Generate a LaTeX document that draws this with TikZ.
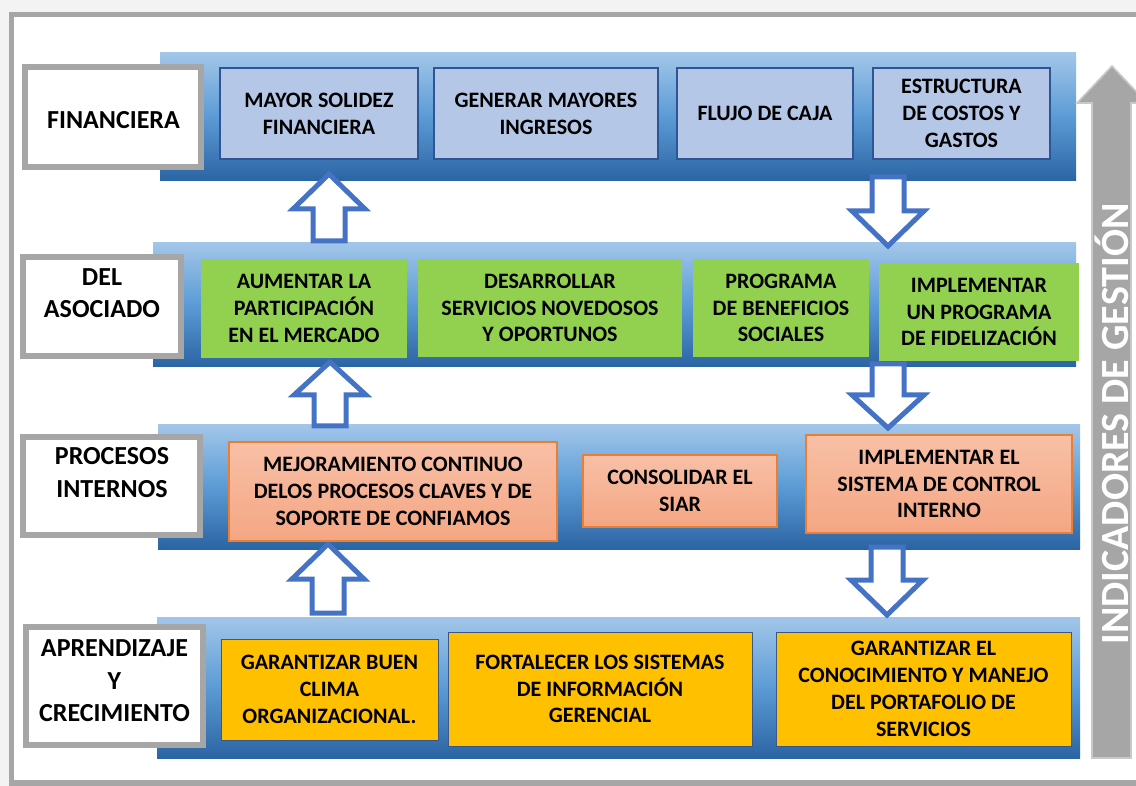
\documentclass[tikz,border=0pt]{standalone}
\usepackage{fontspec}
\setmainfont{Carlito}
\usepackage{tikz}
\usetikzlibrary{calc}

\definecolor{framegray}{HTML}{A6A6A6}
\definecolor{bggray}{HTML}{F3F3F3}
\definecolor{barlight}{HTML}{A2C6E9}
\definecolor{barmid}{HTML}{5B9BD5}
\definecolor{bardark}{HTML}{2B64A3}
\definecolor{finfill}{HTML}{B4C7E7}
\definecolor{finline}{HTML}{2F5597}
\definecolor{asofill}{HTML}{92D050}
\definecolor{protop}{HTML}{F8C0A6}
\definecolor{probot}{HTML}{F4A683}
\definecolor{proline}{HTML}{ED7D31}
\definecolor{aprfill}{HTML}{FFC000}
\definecolor{aprline}{HTML}{3B5689}
\definecolor{arrblue}{HTML}{4472C4}
\definecolor{indgray}{HTML}{A6A6A6}
\definecolor{indline}{HTML}{C9C9C9}

% hollow block arrow: base, tip, signed head length
\newcommand{\blockarrow}[3]{%
  \draw[blockarr] ($(#1)+(-16,0)$) -- ($(#2)+(-16,#3)$) -- ($(#2)+(-36,#3)$) -- (#2)
     -- ($(#2)+(36,#3)$) -- ($(#2)+(16,#3)$) -- ($(#1)+(16,0)$) -- cycle;}

\begin{document}
\begin{tikzpicture}[x=0.5pt,y=-0.5pt,
  sz/.style 2 args={minimum width=#1*0.5pt,minimum height=#2*0.5pt},
  bar/.style={inner sep=0pt,top color=barlight,bottom color=bardark,middle color=barmid},
  lblbox/.style={draw=framegray,line width=3pt,fill=white,inner sep=0pt},
  lbltext/.style={font=\fontsize{13}{16.25}\selectfont\bfseries,align=center,inner sep=0pt},
  goal/.style={font=\fontsize{11}{13.4}\selectfont\bfseries,align=center,inner sep=2pt},
  finbox/.style={goal,fill=finfill,draw=finline,line width=0.6pt},
  asobox/.style={goal,fill=asofill},
  probox/.style={goal,top color=protop,bottom color=probot,draw=proline,line width=0.6pt},
  aprbox/.style={goal,fill=aprfill,draw=aprline,line width=0.5pt},
  blockarr/.style={draw=arrblue,line width=2.5pt,fill=white,line join=miter},
  indic/.style={fill=indgray,draw=indline,line width=0.8pt}]

 \useasboundingbox (0,0) rectangle (1136,786);
 \clip (0,0) rectangle (1136,786);
 \fill[bggray] (0,0) rectangle (1136,786);
 \draw[framegray,line width=2.6pt,fill=white] (11.5,14.5) rectangle (1150,783);

 % perspective bars
 \node[bar,sz={916}{128}] (bar1) at (618,117)   {};
 \node[bar,sz={923}{124}] (bar2) at (614.5,305) {};
 \node[bar,sz={922}{124}] (bar3) at (619,487)   {};
 \node[bar,sz={923}{141}] (bar4) at (618.5,687.5) {};

 % arrows between the bars
 \coordinate (u1a) at (329,241); \coordinate (u1b) at (329,174);
 \coordinate (d1a) at (888,177); \coordinate (d1b) at (888,246);
 \coordinate (u2a) at (330,426); \coordinate (u2b) at (330,362);
 \coordinate (d2a) at (888,364); \coordinate (d2b) at (888,428);
 \coordinate (u3a) at (328,613); \coordinate (u3b) at (328,544);
 \coordinate (d3a) at (887,547); \coordinate (d3b) at (887,615);
 \foreach \a/\b/\h in {u1a/u1b/35,d1a/d1b/-35,u2a/u2b/33,d2a/d2b/-33,u3a/u3b/35,d3a/d3b/-35}
   \blockarrow{\a}{\b}{\h};

 % perspective labels
 \node[lblbox,sz={176}{100}] (fin) at (113,117)   {};
 \node[lblbox,sz={158}{99}]  (aso) at (102,306.5) {};
 \node[lblbox,sz={177}{98}]  (pro) at (111.5,486) {};
 \node[lblbox,sz={177}{118}] (apr) at (114.5,686) {};
 \node[lbltext] (finT) at (113.5,120) {FINANCIERA};
 \node[lbltext] (asoT) at (102,293)   {DEL\\ASOCIADO};
 \node[lbltext] (proT) at (112,472.5) {PROCESOS\\INTERNOS};
 \node[lbltext] (aprT) at (114.5,681) {APRENDIZAJE\\Y\\CRECIMIENTO};

 % objectives
 \node[finbox,sz={198}{91}] (m1) at (319,113.5)   {MAYOR SOLIDEZ\\FINANCIERA};
 \node[finbox,sz={224}{91}] (m2) at (546,113.5)   {GENERAR MAYORES\\INGRESOS};
 \node[finbox,sz={176}{91}] (m3) at (765,113.5)   {FLUJO DE CAJA};
 \node[finbox,sz={177}{91}] (m4) at (961.5,113.5) {ESTRUCTURA\\DE COSTOS Y\\GASTOS};

 \node[asobox,sz={206}{99}] (a1) at (304,308.5) {AUMENTAR LA\\PARTICIPACIÓN\\EN EL MERCADO};
 \node[asobox,sz={264}{98}] (a2) at (550,308)   {DESARROLLAR\\SERVICIOS NOVEDOSOS\\Y OPORTUNOS};
 \node[asobox,sz={176}{98}] (a3) at (781,308)   {PROGRAMA\\DE BENEFICIOS\\SOCIALES};
 \node[asobox,sz={200}{98}] (a4) at (979,312)   {IMPLEMENTAR\\UN PROGRAMA\\DE FIDELIZACIÓN};

 \node[probox,sz={328}{99}] (p1) at (393,491.5) {MEJORAMIENTO CONTINUO\\DELOS PROCESOS CLAVES Y DE\\SOPORTE DE CONFIAMOS};
 \node[probox,sz={194}{72}] (p2) at (680,491)   {CONSOLIDAR EL\\SIAR};
 \node[probox,sz={266}{98}] (p3) at (939,484)   {IMPLEMENTAR EL\\SISTEMA DE CONTROL\\INTERNO};

 \node[aprbox,sz={217}{101}] (g1) at (329.5,689.5) {GARANTIZAR BUEN\\CLIMA\\ORGANIZACIONAL.};
 \node[aprbox,sz={304}{114}] (g2) at (600,689)     {FORTALECER LOS SISTEMAS\\DE INFORMACIÓN\\GERENCIAL};
 \node[aprbox,sz={295}{114}] (g3) at (923.5,689)   {GARANTIZAR EL\\CONOCIMIENTO Y MANEJO\\DEL PORTAFOLIO DE\\SERVICIOS};

 % indicator arrow
 \draw[indic] (1092,758) -- (1092,103) -- (1077,103) -- (1112,66) -- (1147,103)
   -- (1131,103) -- (1131,758) -- cycle;
 \node[rotate=90,text=white,font=\fontsize{20}{24}\selectfont\bfseries] (ind) at (1111.5,424)
   {INDICADORES DE GESTIÓN};
\end{tikzpicture}
\end{document}
